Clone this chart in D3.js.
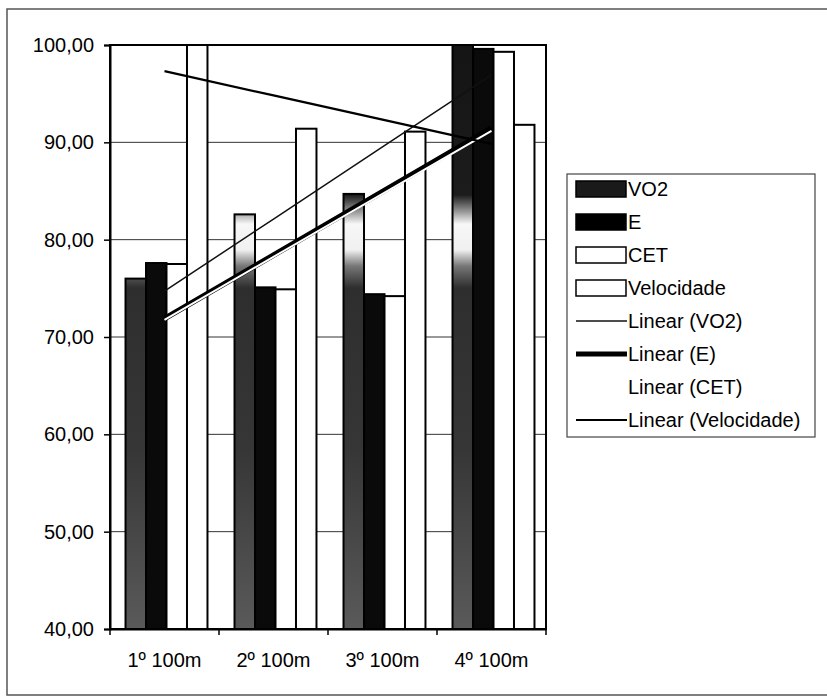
<!DOCTYPE html>
<html>
<head>
<meta charset="utf-8">
<script src="https://cdn.jsdelivr.net/npm/d3@7"></script>
<style>
  html, body { margin: 0; padding: 0; background: #fff; }
  svg { display: block; font-family: "Liberation Sans", Arial, sans-serif; }
</style>
</head>
<body>
<svg id="chart" width="827" height="696"></svg>
<script>
// ---- data ----
const categories = ["1º 100m", "2º 100m", "3º 100m", "4º 100m"];
const seriesNames = ["VO2", "E", "CET", "Velocidade"];
const vo2 = [76.0, 82.6, 84.7, 100.0];
const eVals = [77.6, 75.1, 74.4, 99.6];
const cet = [77.5, 74.9, 74.2, 99.3];
const vel = [100.0, 91.4, 91.1, 91.8];
const yTicks = [40, 50, 60, 70, 80, 90, 100];
const legendLabels = ["VO2", "E", "CET", "Velocidade", "Linear (VO2)", "Linear (E)", "Linear (CET)", "Linear (Velocidade)"];

const series = [vo2, eVals, cet, vel];

const svg = d3.select("#chart");

// outer frame
svg.append("rect").attr("x", 7).attr("y", 9).attr("width", 830).attr("height", 686)
  .attr("fill", "none").attr("stroke", "#555").attr("stroke-width", 1.5);

const plot = { left: 110, right: 546, top: 45, bottom: 629 };

const x0 = d3.scaleBand().domain(categories).range([plot.left, plot.right]).paddingInner(0).paddingOuter(0);
const x1 = d3.scaleBand().domain(seriesNames).range([2, x0.bandwidth() + 2]).paddingInner(0).paddingOuter(0.66);
const y = d3.scaleLinear().domain([40, 100]).range([plot.bottom, plot.top]);

// gradient for VO2 (user space)
const defs = svg.append("defs");
const grad = defs.append("linearGradient").attr("id", "vo2grad")
  .attr("gradientUnits", "userSpaceOnUse")
  .attr("x1", 0).attr("x2", 0).attr("y1", plot.top).attr("y2", plot.bottom);
const gstops = [
  [45, "#141414"], [195, "#1c1c1c"], [212, "#9a9a9a"], [224, "#f7f7f7"],
  [250, "#f0f0f0"], [266, "#777"], [288, "#2e2e2e"], [450, "#363636"], [629, "#5a5a5a"]
];
gstops.forEach(([yy, c]) => grad.append("stop")
  .attr("offset", ((yy - plot.top) / (plot.bottom - plot.top)).toFixed(4)).attr("stop-color", c));

// gridlines
svg.append("g").selectAll("line").data(yTicks.filter(t => t > 40 && t < 100)).join("line")
  .attr("x1", plot.left).attr("x2", plot.right)
  .attr("y1", d => y(d)).attr("y2", d => y(d))
  .attr("stroke", "#333").attr("stroke-width", 1);

// bars
const fills = ["url(#vo2grad)", "#0a0a0a", "#fff", "#fff"];
const gBars = svg.append("g");
categories.forEach((cat, ci) => {
  seriesNames.forEach((s, si) => {
    const v = series[si][ci];
    gBars.append("rect")
      .attr("x", x0(cat) + x1(s))
      .attr("y", y(v))
      .attr("width", x1.bandwidth())
      .attr("height", y(40) - y(v))
      .attr("fill", fills[si])
      .attr("stroke", "#000")
      .attr("stroke-width", 2);
  });
});

// trendlines (least squares over category index)
function fit(vals) {
  const xs = vals.map((_, i) => i + 1);
  const mx = d3.mean(xs), my = d3.mean(vals);
  const b = d3.sum(xs.map((xv, i) => (xv - mx) * (vals[i] - my))) / d3.sum(xs.map(xv => (xv - mx) ** 2));
  const a = my - b * mx;
  return xs.map(xv => a + b * xv);
}
const cx = c => x0(c) + x0.bandwidth() / 2;
const line = d3.line().x((d, i) => cx(categories[i])).y(d => y(d));
const gTrend = svg.append("g");
gTrend.append("path").attr("d", line(fit(vo2))).attr("fill", "none").attr("stroke", "#111").attr("stroke-width", 1.5);
gTrend.append("path").attr("d", line(fit(eVals))).attr("fill", "none").attr("stroke", "#000").attr("stroke-width", 5.5);
gTrend.append("path").attr("d", line(fit(cet))).attr("fill", "none").attr("stroke", "#fff").attr("stroke-width", 2);
gTrend.append("path").attr("d", line(fit(vel))).attr("fill", "none").attr("stroke", "#000").attr("stroke-width", 2.2);

// plot border
svg.append("rect").attr("x", plot.left).attr("y", plot.top)
  .attr("width", plot.right - plot.left).attr("height", plot.bottom - plot.top)
  .attr("fill", "none").attr("stroke", "#000").attr("stroke-width", 2);

// y axis
const yAxis = d3.axisLeft(y).tickValues(yTicks).tickSize(6).tickPadding(10)
  .tickFormat(d => d3.format(".2f")(d).replace(".", ","));
const gy = svg.append("g").attr("transform", `translate(${plot.left},0)`).call(yAxis);
gy.select(".domain").attr("stroke", "#000").attr("stroke-width", 2);
gy.selectAll(".tick line").attr("stroke", "#000").attr("stroke-width", 1.5);
gy.selectAll(".tick text").attr("font-size", 20).attr("fill", "#000")
  .attr("font-family", "'Liberation Sans', Arial, sans-serif");

// x axis
const xAxis = d3.axisBottom(x0).tickSize(0).tickPadding(24);
const gx = svg.append("g").attr("transform", `translate(0,${plot.bottom})`).call(xAxis);
gx.select(".domain").attr("stroke", "#000").attr("stroke-width", 2);
gx.selectAll(".tick text").attr("font-size", 20).attr("fill", "#000")
  .attr("font-family", "'Liberation Sans', Arial, sans-serif");
// category boundary ticks
svg.append("g").selectAll("line").data(d3.range(categories.length + 1)).join("line")
  .attr("x1", i => plot.left + i * x0.step()).attr("x2", i => plot.left + i * x0.step())
  .attr("y1", plot.bottom).attr("y2", plot.bottom + 6)
  .attr("stroke", "#000").attr("stroke-width", 1.5);

// legend
const lg = svg.append("g");
lg.append("rect").attr("x", 567).attr("y", 174).attr("width", 248).attr("height", 263)
  .attr("fill", "#fff").attr("stroke", "#444").attr("stroke-width", 1.2);
const rowY = d3.scalePoint().domain(legendLabels).range([189, 420]);
legendLabels.forEach((lab, i) => {
  const yy = rowY(lab);
  if (i < 4) {
    lg.append("rect").attr("x", 576).attr("y", yy - 8).attr("width", 50).attr("height", 16)
      .attr("fill", ["#1a1a1a", "#000", "#fff", "#fff"][i])
      .attr("stroke", "#000").attr("stroke-width", 1.5);
  } else {
    const sw = [1.5, 5, 2, 2][i - 4];
    const col = ["#111", "#000", "#fff", "#000"][i - 4];
    lg.append("line").attr("x1", 576).attr("x2", 627).attr("y1", yy).attr("y2", yy)
      .attr("stroke", col).attr("stroke-width", sw);
  }
  lg.append("text").attr("x", 628).attr("y", yy).attr("dy", "0.36em")
    .attr("font-size", 20).attr("fill", "#000").text(lab);
});
</script>
</body>
</html>
